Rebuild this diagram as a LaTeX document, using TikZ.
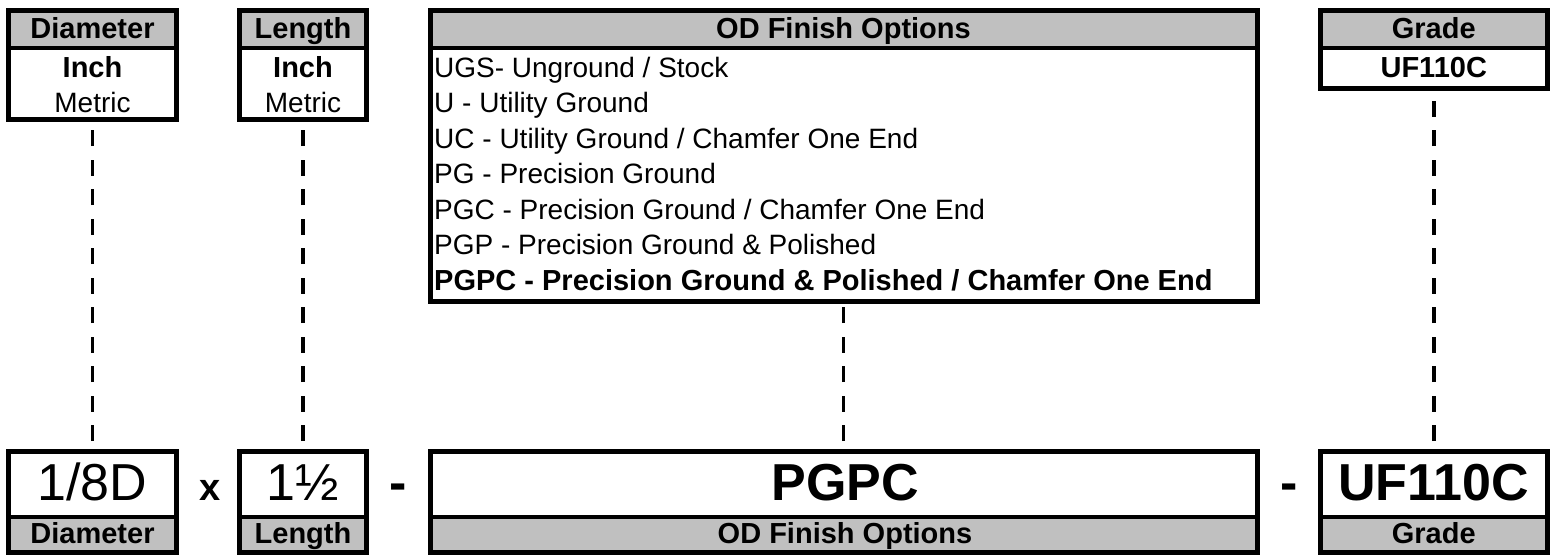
\documentclass[tikz,border=0pt]{standalone}
\usepackage{fontspec}
\setmainfont{Liberation Sans}
\usetikzlibrary{calc}
\definecolor{hdr}{HTML}{C0C0C0}
\begin{document}
\begin{tikzpicture}[x=1pt,y=-1pt,
  boxo/.style={draw=black,line width=5pt,inner sep=0pt,outer sep=0pt,rectangle},
  sepl/.style={line width=4pt},
  hd/.style={font=\fontsize{29}{31}\selectfont\bfseries,inner sep=0pt,anchor=base},
  rg/.style={font=\fontsize{28}{30}\selectfont,inner sep=0pt,anchor=base},
  li/.style={font=\fontsize{28}{30}\selectfont,inner sep=0pt,anchor=base west},
  big/.style={font=\fontsize{52}{56}\selectfont,inner sep=0pt,anchor=base},
  bigb/.style={font=\fontsize{52}{56}\selectfont\bfseries,inner sep=0pt,anchor=base},
  dcol/.style={line width=3.5pt,dash pattern=on 16pt off 13.5pt},
]
\useasboundingbox (0,0) rectangle (1553,555);

% ---------- top boxes ----------
% Diameter
\fill[hdr] (8.5,10.5) rectangle (176.5,48);
\draw[sepl] (8.5,48) -- (176.5,48);
\node[boxo,minimum width=168pt,minimum height=109pt] (dtop) at (92.5,65) {};
\node[hd] (dtoph) at (92.5,38) {Diameter};
\node[hd] (dtopi) at (92.5,77) {Inch};
\node[rg] (dtopm) at (92.5,112.5) {Metric};
% Length
\fill[hdr] (239.5,10.5) rectangle (366.5,48);
\draw[sepl] (239.5,48) -- (366.5,48);
\node[boxo,minimum width=127pt,minimum height=109pt] (ltop) at (303,65) {};
\node[hd] (ltoph) at (303,38) {Length};
\node[hd] (ltopi) at (303,77) {Inch};
\node[rg] (ltopm) at (303,112.5) {Metric};
% OD Finish Options
\fill[hdr] (430,10.5) rectangle (1257,48);
\draw[sepl] (430,48) -- (1257,48);
\node[boxo,minimum width=827pt,minimum height=290.5pt] (otop) at (843.5,155.75) {};
\node[hd] (otoph) at (843.5,38) {OD Finish Options};
\node[li] (o1) at (434,77) {UGS- Unground / Stock};
\node[li] (o2) at (434,112.5) {U - Utility Ground};
\node[li] (o3) at (434,148) {UC - Utility Ground / Chamfer One End};
\node[li] (o4) at (434,183.5) {PG - Precision Ground};
\node[li] (o5) at (434,219) {PGC - Precision Ground / Chamfer One End};
\node[li] (o6) at (434,254.5) {PGP - Precision Ground \& Polished};
\node[li,font=\fontsize{29}{31}\selectfont\bfseries] (o7) at (434,290) {PGPC - Precision Ground \& Polished / Chamfer One End};
% Grade
\fill[hdr] (1320.5,10.5) rectangle (1547,48);
\draw[sepl] (1320.5,48) -- (1547,48);
\node[boxo,minimum width=226.5pt,minimum height=78pt] (gtop) at (1433.75,49.5) {};
\node[hd] (gtoph) at (1433.75,38) {Grade};
\node[hd] (gtopv) at (1433.75,77) {UF110C};

% ---------- bottom boxes ----------
\fill[hdr] (8.5,517) rectangle (176.5,552.5);
\draw[sepl] (8.5,517) -- (176.5,517);
\node[boxo,minimum width=168pt,minimum height=101.5pt] (dbot) at (92.5,501.75) {};
\node[big] (dval) at (92.5,500) {1/8D};
\node[hd] (dlab) at (92.5,543) {Diameter};

\fill[hdr] (239.5,517) rectangle (366.5,552.5);
\draw[sepl] (239.5,517) -- (366.5,517);
\node[boxo,minimum width=127pt,minimum height=101.5pt] (lbot) at (303,501.75) {};
\node[big] (lval) at (303,500) {1½};
\node[hd] (llab) at (303,543) {Length};

\fill[hdr] (430,517) rectangle (1257,552.5);
\draw[sepl] (430,517) -- (1257,517);
\node[boxo,minimum width=827pt,minimum height=101.5pt] (obot) at (843.5,501.75) {};
\node[bigb] (oval) at (845,500) {PGPC};
\node[hd] (olab) at (845,543) {OD Finish Options};

\fill[hdr] (1320.5,517) rectangle (1547,552.5);
\draw[sepl] (1320.5,517) -- (1547,517);
\node[boxo,minimum width=226.5pt,minimum height=101.5pt] (gbot) at (1433.75,501.75) {};
\node[bigb] (gval) at (1433.75,500) {UF110C};
\node[hd] (glab) at (1433.75,543) {Grade};

% separators between boxes
\node[font=\fontsize{38}{40}\selectfont\bfseries,inner sep=0pt,anchor=base] (times) at (210,500) {x};
\node[bigb] (dash1) at (398,500) {-};
\node[bigb] (dash2) at (1289,500) {-};

% ---------- dashed connectors ----------
\draw[dcol] ($(dbot.north)+(0,-10)$) -- (dtop.south);
\draw[dcol] ($(lbot.north)+(0,-10)$) -- (ltop.south);
\draw[dcol] ($(obot.north)+(0,-10)$) -- (otop.south);
\draw[dcol] ($(gbot.north)+(0,-10)$) -- (gtop.south);
\end{tikzpicture}
\end{document}
